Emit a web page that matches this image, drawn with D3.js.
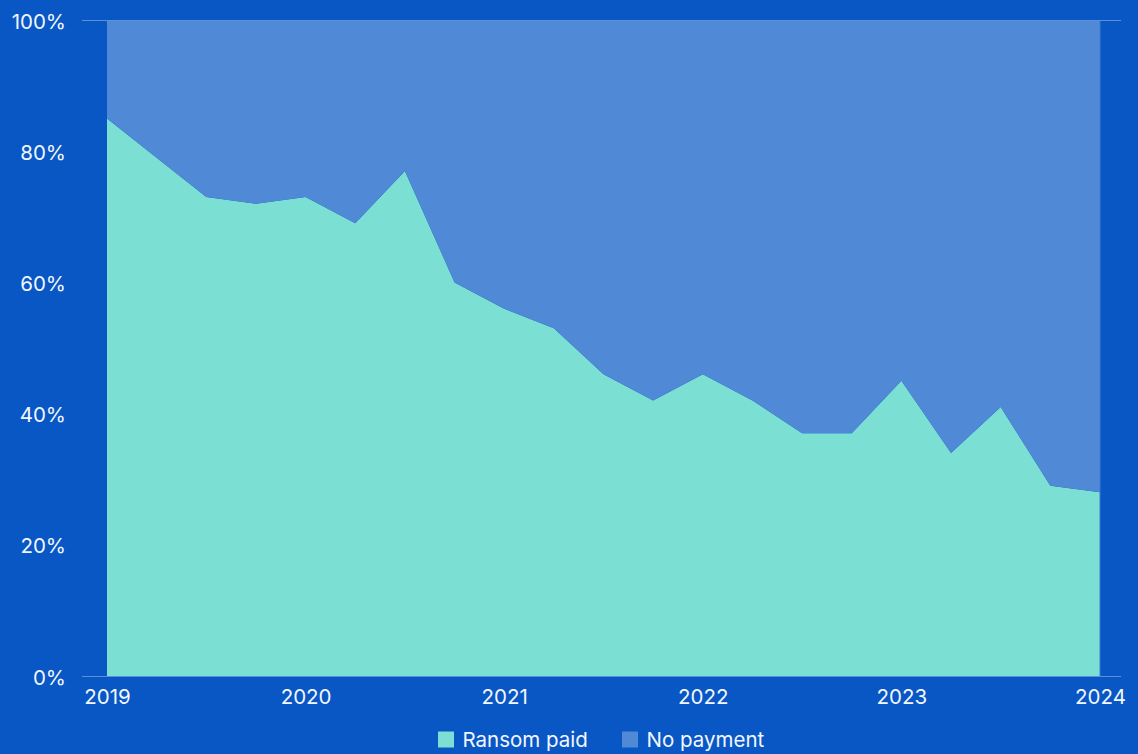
<!DOCTYPE html>
<html>
<head>
<meta charset="utf-8">
<script src="https://cdn.jsdelivr.net/npm/d3@7"></script>
<style>
  html, body { margin: 0; padding: 0; background: #0957c4; }
  svg { display: block; }
  text { font-family: Inter, "Noto Sans", sans-serif; fill: #f2f6ff; }
</style>
</head>
<body>
<svg id="chart" width="1138" height="754"></svg>
<script>
// Quarterly share of ransomware incidents, 2019 Q1 – 2024 Q1
const quarters = [
  "2019Q1","2019Q2","2019Q3","2019Q4",
  "2020Q1","2020Q2","2020Q3","2020Q4",
  "2021Q1","2021Q2","2021Q3","2021Q4",
  "2022Q1","2022Q2","2022Q3","2022Q4",
  "2023Q1","2023Q2","2023Q3","2023Q4",
  "2024Q1"
];
const ransomPaid = [85, 79, 73, 72, 73, 69, 77, 60, 56, 53, 46, 42, 46, 42, 37, 37, 45, 34, 41, 29, 28];
const noPayment  = [15, 21, 27, 28, 27, 31, 23, 40, 44, 47, 54, 58, 54, 58, 63, 63, 55, 66, 59, 71, 72];
const seriesNames = ["Ransom paid", "No payment"];
const seriesColors = ["#7be0d3", "#5089d5"];
const yTicks = [0, 20, 40, 60, 80, 100];
const yearTicks = ["2019Q1", "2020Q1", "2021Q1", "2022Q1", "2023Q1", "2024Q1"];

(function () {
  const svg = d3.select("#chart");
  const plotLeft = 107, plotRight = 1100, plotTop = 20, plotBottom = 676;
  const fontSize = 20.5;

  const rows = quarters.map((q, i) => ({
    quarter: q,
    "Ransom paid": ransomPaid[i],
    "No payment": noPayment[i]
  }));

  const x = d3.scalePoint().domain(quarters).range([plotLeft, plotRight]);
  const y = d3.scaleLinear().domain([0, 100]).range([plotBottom, plotTop]);
  const color = d3.scaleOrdinal().domain(seriesNames).range(seriesColors);

  const stacked = d3.stack().keys(seriesNames)(rows);

  const area = d3.area()
    .x(d => x(d.data.quarter))
    .y0(d => y(d[0]))
    .y1(d => y(d[1]));

  svg.append("g")
    .selectAll("path")
    .data(stacked)
    .join("path")
    .attr("d", area)
    .attr("fill", d => color(d.key));

  // thin edge on the right side of the plot
  svg.append("line")
    .attr("x1", plotRight).attr("x2", plotRight)
    .attr("y1", plotTop).attr("y2", plotBottom)
    .attr("stroke", "#3f7bd0").attr("stroke-width", 1);

  // top and baseline rules
  svg.append("g")
    .selectAll("line")
    .data([0, 100])
    .join("line")
    .attr("x1", 82).attr("x2", 1121)
    .attr("y1", d => Math.round(y(d)) + 0.5)
    .attr("y2", d => Math.round(y(d)) + 0.5)
    .attr("stroke", "#5a8fdc").attr("stroke-width", 1);

  // y axis
  const yAxis = d3.axisLeft(y)
    .tickValues(yTicks)
    .tickFormat(d => d + "%")
    .tickSize(0)
    .tickPadding(0);
  const gy = svg.append("g").attr("transform", "translate(66,0)").call(yAxis);
  gy.select(".domain").remove();
  gy.selectAll("text")
    .attr("font-size", fontSize)
    .attr("fill", "#f2f6ff")
    .attr("dy", "8px");

  // x axis
  const xAxis = d3.axisBottom(x)
    .tickValues(yearTicks)
    .tickFormat(d => d.slice(0, 4))
    .tickSize(0)
    .tickPadding(0);
  const gx = svg.append("g").attr("transform", `translate(0,${plotBottom})`).call(xAxis);
  gx.select(".domain").remove();
  gx.selectAll("text")
    .attr("font-size", fontSize)
    .attr("fill", "#f2f6ff")
    .attr("dy", "28px");

  // legend
  const legendItems = [
    { name: "Ransom paid", x: 438 },
    { name: "No payment", x: 622 }
  ];
  const li = svg.append("g").selectAll("g").data(legendItems).join("g")
    .attr("transform", d => `translate(${d.x},731.5)`);
  li.append("rect")
    .attr("width", 16).attr("height", 16)
    .attr("fill", d => color(d.name));
  li.append("text")
    .attr("x", 24.5).attr("y", 15.5)
    .attr("font-size", fontSize)
    .text(d => d.name);
})();
</script>
</body>
</html>
